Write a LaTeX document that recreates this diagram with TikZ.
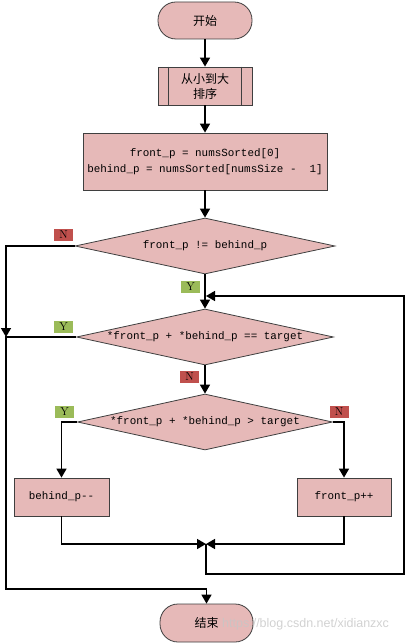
\documentclass[tikz,border=0pt]{standalone}
\usepackage{fontspec}
\setmonofont{Liberation Mono}
\newfontfamily\cjk{Noto Sans CJK SC}
\newfontfamily\wmfont{Liberation Sans}
\usetikzlibrary{shapes.geometric,arrows.meta}
\definecolor{boxfill}{HTML}{E6B9B8}
\definecolor{boxline}{HTML}{3F3F3F}
\definecolor{labred}{HTML}{C0504D}
\definecolor{labgreen}{HTML}{9BBB59}
\begin{document}
\begin{tikzpicture}[x=1pt,y=-1pt,
  base/.style={draw=boxline, fill=boxfill, line width=0.8pt, inner sep=0pt, align=center},
  term/.style={base, rounded corners=18pt, minimum width=94pt, minimum height=37pt,
    font=\cjk\fontsize{12}{15}\selectfont},
  subproc/.style={base, minimum width=94pt, minimum height=38pt,
    font=\cjk\fontsize{12}{15}\selectfont},
  proc/.style={base, font=\ttfamily\fontsize{10.9}{16}\selectfont},
  decision/.style={base, diamond, aspect=4.5, font=\ttfamily\fontsize{10.9}{14}\selectfont},
  lab/.style={inner sep=0pt, minimum width=19pt, minimum height=12pt,
    font=\fontsize{11.5}{11.5}\selectfont, text=black},
  nlab/.style={lab, fill=labred},
  ylab/.style={lab, fill=labgreen},
  conn/.style={line width=1.6pt, black},
  arr/.style={conn, -{Triangle[length=9pt,width=10pt]}},
]
\useasboundingbox (0,0) rectangle (406,644);

% nodes
\node[term] (start) at (205,20.5) {开始};
\node[subproc] (sort) at (205,86) {从小到大\\排序};
\draw[boxline, line width=0.8pt] ([xshift=11pt]sort.north west) -- ([xshift=11pt]sort.south west);
\draw[boxline, line width=0.8pt] ([xshift=-11pt]sort.north east) -- ([xshift=-11pt]sort.south east);
\node[proc, minimum width=244pt, minimum height=57pt] (init) at (205,161.5)
  {front\_p = numsSorted[0]\\behind\_p = numsSorted[numsSize -\ \ 1]};
\node[decision, minimum width=260pt, minimum height=56pt] (d1) at (205,246) {front\_p != behind\_p};
\node[decision, minimum width=257pt, minimum height=56pt] (d2) at (205,337) {*front\_p + *behind\_p == target};
\node[decision, minimum width=255pt, minimum height=56pt] (d3) at (205,422) {*front\_p + *behind\_p > target};
\node[proc, minimum width=95pt, minimum height=38pt] (b1) at (61.5,497) {behind\_p-{}-};
\node[proc, minimum width=94pt, minimum height=38pt] (b2) at (344,497) {front\_p++};
\node[term, minimum width=93pt, minimum height=38pt] (end) at (206.5,623) {结束};

% labels
\node[nlab] (n1) at (63.5,235) {N};
\node[ylab] (y1) at (190.5,286.5) {Y};
\node[ylab] (y2) at (63.5,326.5) {Y};
\node[nlab] (n2) at (189.5,377) {N};
\node[ylab] (y3) at (64.5,411.5) {Y};
\node[nlab] (n3) at (339,411.5) {N};

% helper coordinates
\coordinate (jl) at (6,337);
\coordinate (bl) at (6,589);
\coordinate (jm) at (206,544);
\coordinate (lb) at (206,574);
\coordinate (rb) at (404,574);
\coordinate (rt) at (404,296);
\coordinate (lt) at (206,296);

% connectors
\draw[arr] (start) -- (sort);
\draw[arr] (sort) -- (init);
\draw[arr] (init) -- (d1);
\draw[arr] (d1) -- (d2);
\draw[arr] (d2) -- (d3);
\draw[arr] (d1.west) -| (jl);
\draw[arr] (d2.west) -- (jl) -- (bl) -| (end.north);
\draw[arr] (d3.west) -| (b1.north);
\draw[arr] (d3.east) -| (b2.north);
\draw[arr] (b1.south) |- (jm);
\draw[arr] (b2.south) |- (jm);
\draw[arr] (jm) -- (lb) -- (rb) -- (rt) -- (lt);

% watermark
\node[inner sep=0pt, anchor=west, font=\wmfont\fontsize{12.5}{12.5}\selectfont, text=gray!45, text opacity=0.8] (wm) at (222,624) {https://blog.csdn.net/xidianzxc};
\end{tikzpicture}
\end{document}
